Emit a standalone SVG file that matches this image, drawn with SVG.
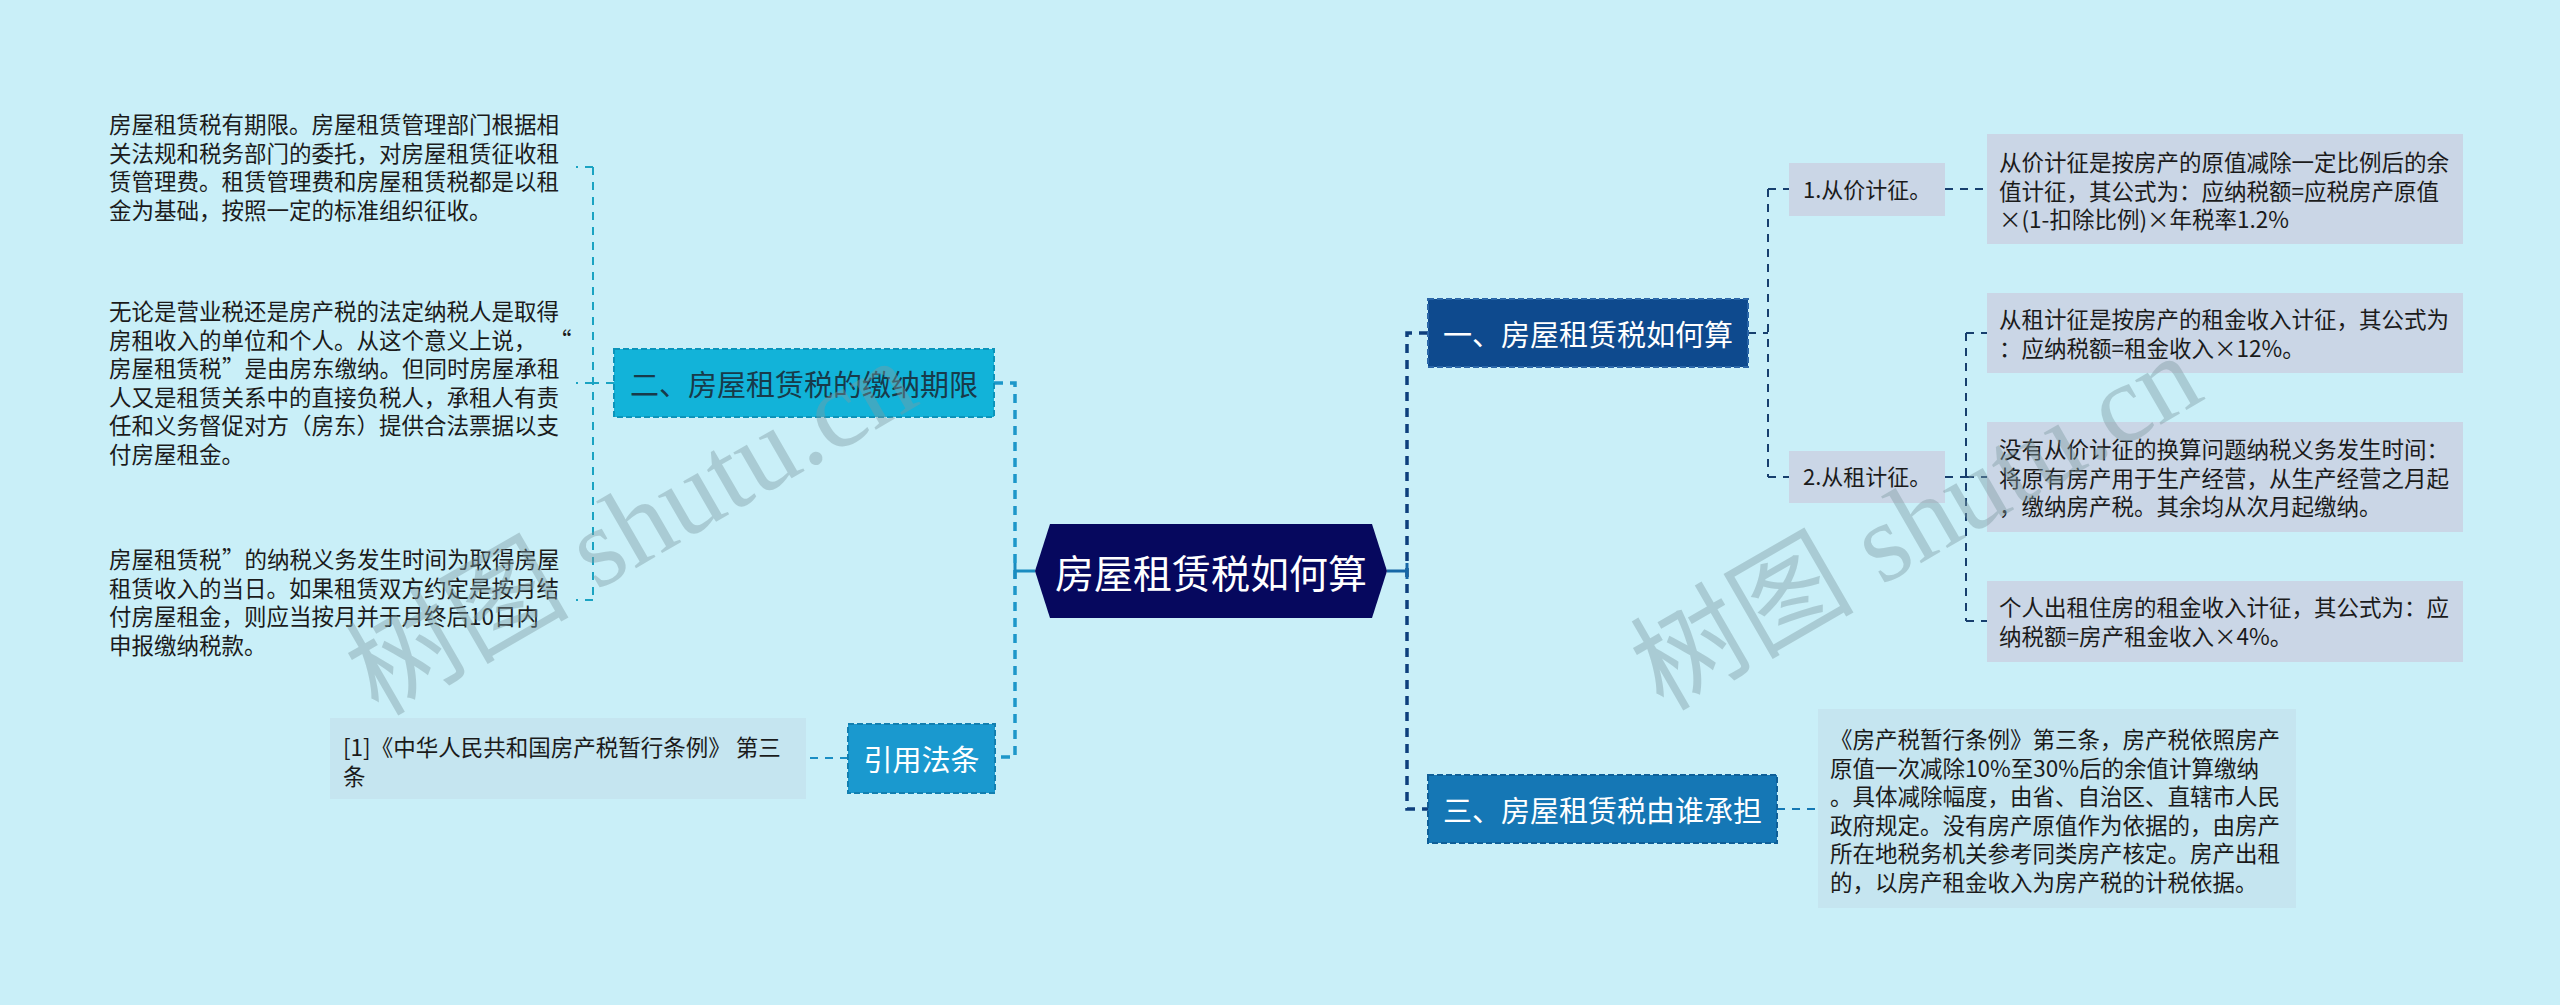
<svg xmlns="http://www.w3.org/2000/svg" width="2560" height="1005" viewBox="0 0 2560 1005">
<style>
text{font-family:"Noto Sans CJK SC","Noto Sans",sans-serif}
.leaf{font-size:22.5px;fill:#1b1b1b}
.lbl{font-size:22px;fill:#1b1b1b}
.nt{font-size:29px;text-anchor:middle;dominant-baseline:central}
.c{fill:none;stroke-width:2;stroke-dasharray:8 7}
.t{fill:none;stroke-width:3.5;stroke-dasharray:9 7}
.wm{font-family:"Liberation Serif","Noto Sans CJK SC",serif;font-size:112px;fill:#7f9ca3;opacity:0.42}
</style>
<rect width="2560" height="1005" fill="#c9eff8"/>

<g id="connectors">
  <path class="t" stroke="#1d97c9" d="M994,383 H1015 V757 H995"/>
  <path d="M1035,571 H1015 M1015,563 V579" stroke="#1a8cc0" stroke-width="3" fill="none"/>
  <path class="t" stroke="#0e3f7c" d="M1428,333 H1407 V809 H1428"/>
  <path d="M1387,571 H1407 M1407,563 V579" stroke="#1667a6" stroke-width="3" fill="none"/>
  <path class="c" stroke="#1aa3c2" d="M614,383 H593 M593,167 V600 M593,167 H576 M593,383 H576 M593,600 H576"/>
  <path class="c" stroke="#1a8ec4" d="M848,758 H806"/>
  <path class="c" stroke="#173f6e" d="M1748,333 H1768 M1768,189 V477 M1768,189 H1789 M1768,477 H1789"/>
  <path class="c" stroke="#173f6e" d="M1945,189 H1987"/>
  <path class="c" stroke="#173f6e" d="M1945,477 H1966 M1966,333 V621 M1966,333 H1987 M1966,477 H1987 M1966,621 H1987"/>
  <path class="c" stroke="#1478b4" d="M1777,809 H1818"/>
</g>

<g id="root">
  <polygon points="1035,571 1050,524 1372,524 1387,571 1372,618 1050,618" fill="#06085e"/>
  <text x="1211" y="571" text-anchor="middle" dominant-baseline="central" font-size="39" fill="#ffffff">房屋租赁税如何算</text>
</g>

<g id="n2">
  <rect x="614" y="349" width="380" height="68" fill="#12b3d9" stroke="#0c94ba" stroke-width="2" stroke-dasharray="6 3"/>
  <text class="nt" x="804" y="383" fill="#183a4a">二、房屋租赁税的缴纳期限</text>
</g>

<g id="n2-leaf1">
  <text class="leaf" x="109"><tspan x="109" y="133">房屋租赁税有期限。房屋租赁管理部门根据相</tspan><tspan x="109" y="161.6">关法规和税务部门的委托，对房屋租赁征收租</tspan><tspan x="109" y="190.2">赁管理费。租赁管理费和房屋租赁税都是以租</tspan><tspan x="109" y="218.8">金为基础，按照一定的标准组织征收。</tspan></text>
</g>
<g id="n2-leaf2">
  <text class="leaf" x="109"><tspan x="109" y="320">无论是营业税还是房产税的法定纳税人是取得</tspan><tspan x="109" y="348.6">房租收入的单位和个人。从这个意义上说，</tspan><tspan x="549" y="348.6">“</tspan><tspan x="109" y="377.2">房屋租赁税</tspan><tspan x="222" y="377.2">”</tspan><tspan x="244.6" y="377.2">是由房东缴纳。但同时房屋承租</tspan><tspan x="109" y="405.8">人又是租赁关系中的直接负税人，承租人有责</tspan><tspan x="109" y="434.4">任和义务督促对方（房东）提供合法票据以支</tspan><tspan x="109" y="463">付房屋租金。</tspan></text>
</g>
<g id="n2-leaf3">
  <text class="leaf" x="109"><tspan x="109" y="568">房屋租赁税</tspan><tspan x="222" y="568">”</tspan><tspan x="244.6" y="568">的纳税义务发生时间为取得房屋</tspan><tspan x="109" y="596.6">租赁收入的当日。如果租赁双方约定是按月结</tspan><tspan x="109" y="625.2">付房屋租金，则应当按月并于月终后10日内</tspan><tspan x="109" y="653.8">申报缴纳税款。</tspan></text>
</g>

<g id="cite">
  <rect x="848" y="724" width="147" height="69" fill="#1a99cf" stroke="#127fb0" stroke-width="2" stroke-dasharray="6 3"/>
  <text class="nt" x="921.5" y="758" fill="#ffffff">引用法条</text>
</g>
<g id="cite-leaf">
  <rect x="330" y="718" width="476" height="81" fill="#c5e5f0"/>
  <text class="leaf" x="343"><tspan x="343" y="756">[1]《中华人民共和国房产税暂行条例》 第三</tspan><tspan x="343" y="785">条</tspan></text>
</g>

<g id="n1">
  <rect x="1428" y="299" width="320" height="68" fill="#0e4a8e" stroke="#2a66a8" stroke-width="2" stroke-dasharray="6 3"/>
  <text class="nt" x="1588" y="333" fill="#ffffff">一、房屋租赁税如何算</text>
</g>
<g id="n1-a">
  <rect x="1789" y="163" width="156" height="53" fill="#cad6e6"/>
  <text class="lbl" x="1803" y="197.5">1.从价计征。</text>
</g>
<g id="n1-a-leaf">
  <rect x="1987" y="134" width="476" height="110" fill="#cad6e6"/>
  <text class="leaf" x="1999"><tspan x="1999" y="171">从价计征是按房产的原值减除一定比例后的余</tspan><tspan x="1999" y="199.6">值计征，其公式为：应纳税额=应税房产原值</tspan><tspan x="1999" y="228.2">×(1-扣除比例)×年税率1.2%</tspan></text>
</g>
<g id="n1-b">
  <rect x="1789" y="451" width="156" height="52" fill="#cad6e6"/>
  <text class="lbl" x="1803" y="485">2.从租计征。</text>
</g>
<g id="n1-b-leaf1">
  <rect x="1987" y="293" width="476" height="80" fill="#cad6e6"/>
  <text class="leaf" x="1999"><tspan x="1999" y="328">从租计征是按房产的租金收入计征，其公式为</tspan><tspan x="1999" y="356.6">：应纳税额=租金收入×12%。</tspan></text>
</g>
<g id="n1-b-leaf2">
  <rect x="1987" y="422" width="476" height="110" fill="#cad6e6"/>
  <text class="leaf" x="1999"><tspan x="1999" y="458">没有从价计征的换算问题纳税义务发生时间：</tspan><tspan x="1999" y="486.6">将原有房产用于生产经营，从生产经营之月起</tspan><tspan x="1999" y="515.2">，缴纳房产税。其余均从次月起缴纳。</tspan></text>
</g>
<g id="n1-b-leaf3">
  <rect x="1987" y="581" width="476" height="81" fill="#cad6e6"/>
  <text class="leaf" x="1999"><tspan x="1999" y="616">个人出租住房的租金收入计征，其公式为：应</tspan><tspan x="1999" y="644.6">纳税额=房产租金收入×4%。</tspan></text>
</g>

<g id="n3">
  <rect x="1428" y="775" width="349" height="68" fill="#1577b5" stroke="#0f5f98" stroke-width="2" stroke-dasharray="6 3"/>
  <text class="nt" x="1602.5" y="809" fill="#ffffff">三、房屋租赁税由谁承担</text>
</g>
<g id="n3-leaf">
  <rect x="1818" y="709" width="478" height="199" fill="#c5e5f0"/>
  <text class="leaf" x="1830"><tspan x="1830" y="748">《房产税暂行条例》第三条，房产税依照房产</tspan><tspan x="1830" y="776.6">原值一次减除10%至30%后的余值计算缴纳</tspan><tspan x="1830" y="805.2">。具体减除幅度，由省、自治区、直辖市人民</tspan><tspan x="1830" y="833.8">政府规定。没有房产原值作为依据的，由房产</tspan><tspan x="1830" y="862.4">所在地税务机关参考同类房产核定。房产出租</tspan><tspan x="1830" y="891">的，以房产租金收入为房产税的计税依据。</tspan></text>
</g>

<text class="wm" transform="translate(650,560) rotate(-30)" text-anchor="middle">树图 shutu.cn</text>
<text class="wm" transform="translate(1935,555) rotate(-30)" text-anchor="middle">树图 shutu.cn</text>
</svg>
